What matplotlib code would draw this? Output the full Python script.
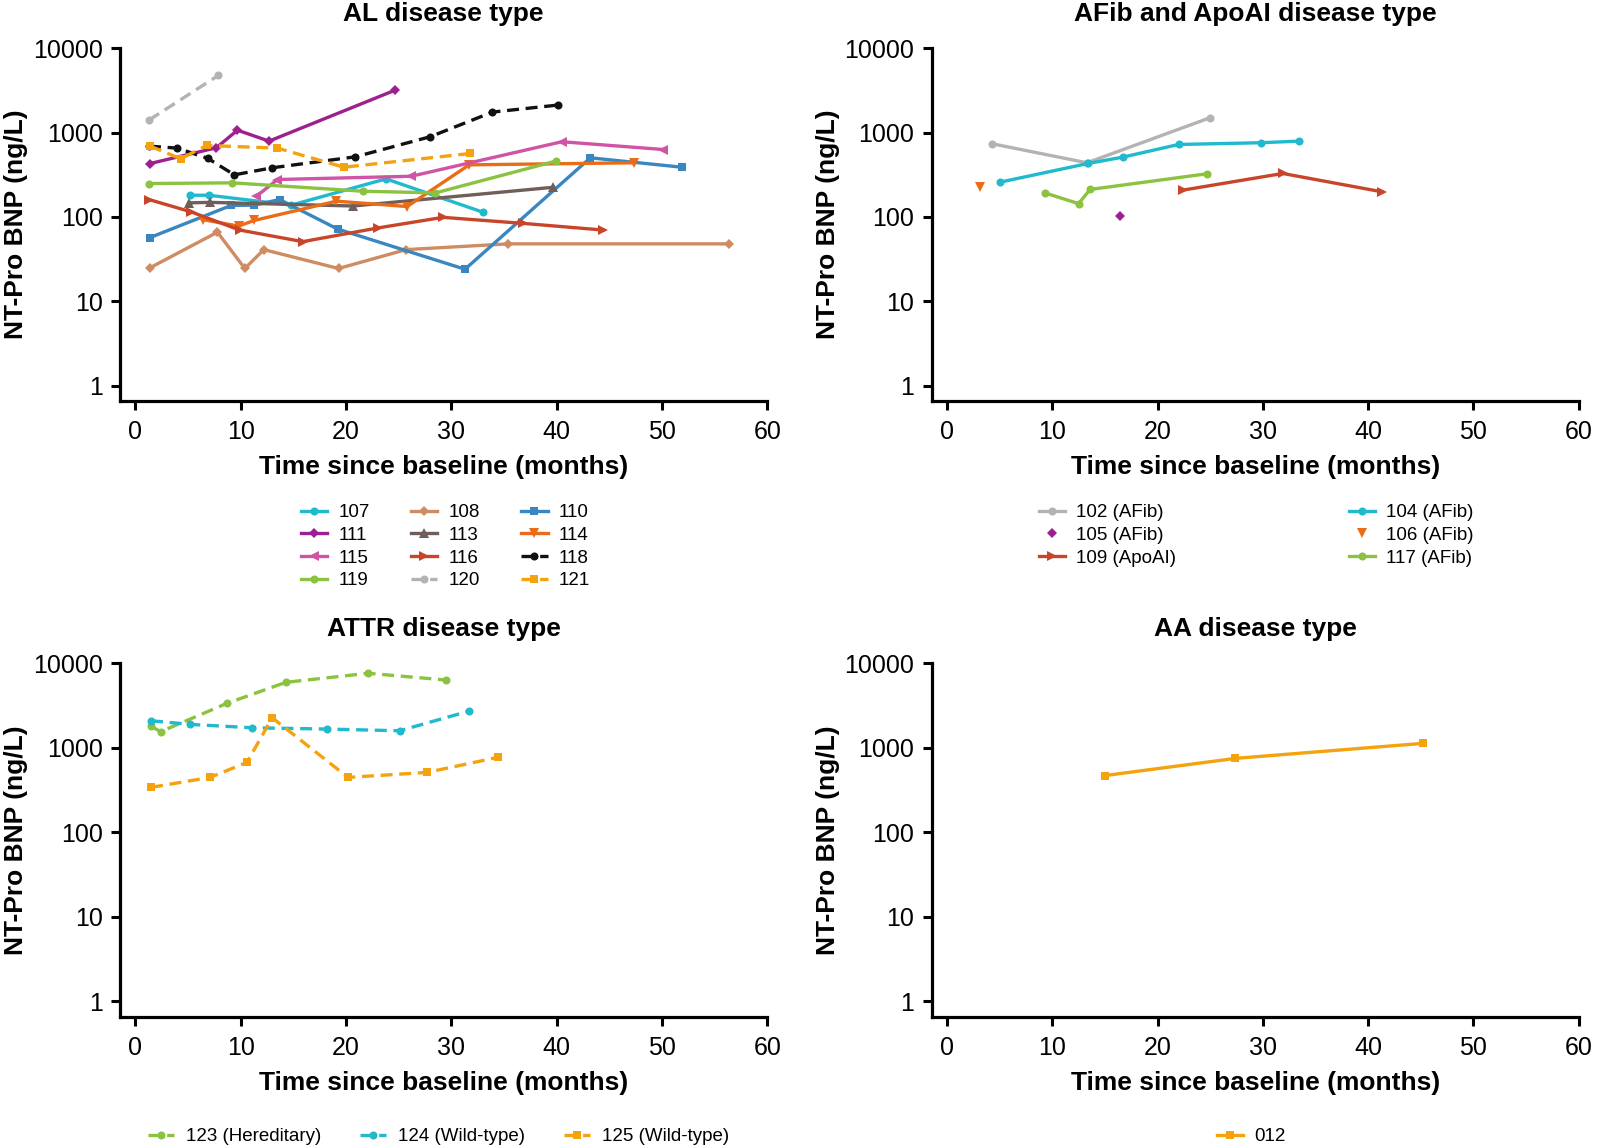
import matplotlib
matplotlib.use("Agg")
import matplotlib.pyplot as plt
from matplotlib.ticker import FixedLocator, FixedFormatter, NullLocator

plt.rcParams['font.family'] = ['Liberation Sans', 'DejaVu Sans']

# ---------------- Data ----------------
# AL disease type
t107 = [5.2, 7.0, 14.8, 23.8, 33.0]
v107 = [181, 181, 138, 283, 114]
t108 = [1.4, 7.8, 10.4, 12.2, 19.3, 25.7, 35.4, 56.4]
v108 = [25, 66, 24.5, 41, 24.5, 41, 48, 48]
t110 = [1.4, 9.1, 11.3, 13.7, 19.2, 31.3, 43.2, 51.9]
v110 = [57, 137, 138, 161, 72, 24, 503, 389]
t111 = [1.4, 7.7, 9.7, 12.7, 24.7]
v111 = [430, 662, 1070, 793, 3200]
t113 = [5.1, 7.1, 20.7, 39.7]
v113 = [147, 149, 135, 225]
t114 = [6.4, 9.8, 11.3, 19.1, 25.8, 31.7, 47.3]
v114 = [93, 78, 91, 154, 133, 415, 439]
t115 = [11.5, 13.5, 26.2, 40.5, 50.1]
v115 = [176, 278, 304, 780, 631]
t116 = [1.3, 5.3, 9.9, 15.9, 23.0, 29.2, 36.8, 44.4]
v116 = [161, 115, 70, 51, 74, 99, 84, 70]
t118 = [1.3, 4.0, 6.9, 9.4, 13.0, 20.9, 28.0, 33.9, 40.1]
v118 = [692, 655, 494, 316, 383, 517, 894, 1752, 2122]
t119 = [1.3, 9.2, 21.6, 28.5, 39.9]
v119 = [249, 254, 202, 193, 459]
t120 = [1.3, 7.9]
v120 = [1410, 4780]
t121 = [1.4, 4.3, 6.8, 13.5, 19.8, 31.8]
v121 = [692, 490, 705, 655, 389, 566]

# AFib and ApoAI disease type
t102 = [4.3, 13.3, 25.0]
v102 = [738, 439, 1503]
t104 = [5.0, 13.4, 16.7, 22.0, 29.8, 33.4]
v104 = [258, 431, 512, 724, 759, 793]
t105 = [16.4]
v105 = [104]
t106 = [3.1]
v106 = [228]
t109 = [22.4, 31.9, 41.3]
v109 = [208, 328, 199]
t117 = [9.3, 12.5, 13.6, 24.7]
v117 = [193, 144, 212, 325]

# ATTR disease type
t123 = [1.5, 2.4, 8.7, 14.3, 22.1, 29.5]
v123 = [1807, 1548, 3358, 5957, 7617, 6341]
t124 = [1.5, 5.2, 11.1, 18.2, 25.1, 31.7]
v124 = [2089, 1893, 1725, 1666, 1590, 2722]
t125 = [1.5, 7.1, 10.6, 13.0, 20.2, 27.7, 34.4]
v125 = [340, 446, 671, 2266, 446, 511, 770]

# AA disease type
t012 = [15.0, 27.4, 45.2]
v012 = [469, 749, 1128]

titles = ["AL disease type", "AFib and ApoAI disease type",
          "ATTR disease type", "AA disease type"]
x_ticks = [0, 10, 20, 30, 40, 50, 60]
y_ticks = [1, 10, 100, 1000, 10000]
y_tick_labels = ["1", "10", "100", "1000", "10000"]

# ---------------- Styles ----------------
C_CYAN = "#1fbacd"
C_TAN = "#cf8b62"
C_BLUE = "#3a86c1"
C_PURPLE = "#9e1f8f"
C_TAUPE = "#6f5e59"
C_ORANGE = "#ea6c16"
C_PINK = "#d053a6"
C_RED = "#c9452a"
C_BLACK = "#111111"
C_GREEN = "#8bc240"
C_GRAY = "#b3b3b3"
C_AMBER = "#f4a20e"

LW = 2.4
MS = 5.8

al_series = [
    ("107", t107, v107, C_CYAN, 'o', '-'),
    ("108", t108, v108, C_TAN, 'D', '-'),
    ("110", t110, v110, C_BLUE, 's', '-'),
    ("111", t111, v111, C_PURPLE, 'D', '-'),
    ("113", t113, v113, C_TAUPE, '^', '-'),
    ("114", t114, v114, C_ORANGE, 'v', '-'),
    ("115", t115, v115, C_PINK, '<', '-'),
    ("116", t116, v116, C_RED, '>', '-'),
    ("118", t118, v118, C_BLACK, 'o', '--'),
    ("119", t119, v119, C_GREEN, 'o', '-'),
    ("120", t120, v120, C_GRAY, 'o', '--'),
    ("121", t121, v121, C_AMBER, 's', '--'),
]
afib_series = [
    ("102 (AFib)", t102, v102, C_GRAY, 'o', '-'),
    ("104 (AFib)", t104, v104, C_CYAN, 'o', '-'),
    ("105 (AFib)", t105, v105, C_PURPLE, 'D', 'none'),
    ("106 (AFib)", t106, v106, C_ORANGE, 'v', 'none'),
    ("109 (ApoAI)", t109, v109, C_RED, '>', '-'),
    ("117 (AFib)", t117, v117, C_GREEN, 'o', '-'),
]
attr_series = [
    ("123 (Hereditary)", t123, v123, C_GREEN, 'o', '--'),
    ("124 (Wild-type)", t124, v124, C_CYAN, 'o', '--'),
    ("125 (Wild-type)", t125, v125, C_AMBER, 's', '--'),
]
aa_series = [
    ("012", t012, v012, C_AMBER, 's', '-'),
]

W, H = 1600, 1148
fig = plt.figure(figsize=(W / 100, H / 100), dpi=100)


def px_axes(left, top, right, bottom):
    return fig.add_axes([left / W, 1 - bottom / H, (right - left) / W, (bottom - top) / H])


ax_al = px_axes(120, 48.3, 767.3, 401)
ax_af = px_axes(931.7, 48.3, 1578.6, 401)
ax_at = px_axes(120, 663.3, 767.3, 1016.6)
ax_aa = px_axes(931.7, 663.3, 1578.6, 1016.6)


def msize(m):
    if m in ('D',):
        return MS - 0.8
    if m in ('^', 'v', '<', '>'):
        return MS + 1.0
    return MS


def draw(ax, series):
    handles = {}
    for name, t, v, c, m, ls in series:
        kw = dict(color=c, marker=m, markersize=msize(m), linewidth=LW,
                  markeredgewidth=0, label=name)
        if ls == '--':
            kw['dashes'] = (3.6, 2.0)
            kw['linestyle'] = '--'
        elif ls == 'none':
            kw['linestyle'] = 'none'
        else:
            kw['linestyle'] = '-'
        ln, = ax.plot(t, v, **kw)
        handles[name] = ln
    return handles


def style(ax, title):
    ax.set_yscale('log')
    ax.set_xlim(-1.45, 60)
    ax.set_ylim(10 ** -0.182, 10000)
    ax.yaxis.set_major_locator(FixedLocator(y_ticks))
    ax.yaxis.set_major_formatter(FixedFormatter(y_tick_labels))
    ax.yaxis.set_minor_locator(NullLocator())
    ax.set_xticks(x_ticks)
    ax.set_xticklabels([str(x) for x in x_ticks])
    for s in ('top', 'right'):
        ax.spines[s].set_visible(False)
    for s in ('left', 'bottom'):
        ax.spines[s].set_linewidth(2.3)
        ax.spines[s].set_color('black')
    ax.tick_params(axis='both', which='major', direction='out', length=6.5,
                   width=2.2, labelsize=18, colors='black')
    ax.tick_params(axis='x', pad=7.5)
    ax.tick_params(axis='y', pad=6)
    ax.set_title(title, fontsize=19, fontweight='bold', pad=19.5)
    ax.set_xlabel("Time since baseline (months)", fontsize=19, fontweight='bold')
    ax.set_ylabel("NT-Pro BNP (ng/L)", fontsize=19, fontweight='bold')
    ax.xaxis.set_label_coords(0.5, -0.154)
    ax.yaxis.set_label_coords(-0.142, 0.5)
    ax.patch.set_alpha(0)


h_al = draw(ax_al, al_series)
h_af = draw(ax_af, afib_series)
h_at = draw(ax_at, attr_series)
h_aa = draw(ax_aa, aa_series)
for ax, ttl in zip([ax_al, ax_af, ax_at, ax_aa], titles):
    style(ax, ttl)

LEG_FS = 13.5
common = dict(loc='upper left', frameon=False, fontsize=LEG_FS, borderpad=0,
              borderaxespad=0, handlelength=1.4, handletextpad=0.6,
              labelspacing=0.3, numpoints=1)

# AL legend: rows of 3, row-major order as in the reference
al_names = [s[0] for s in al_series]
nrow, ncol = 4, 3
order = [al_names[r * ncol + c] for c in range(ncol) for r in range(nrow)]
fig.legend([h_al[n] for n in order], order, ncol=3, columnspacing=2.2,
           bbox_to_anchor=(301 / W, 1 - 504 / H), **common)

af_names = [s[0] for s in afib_series]
af_order = [af_names[i] for i in (0, 2, 4, 1, 3, 5)]
fig.legend([h_af[n] for n in af_order], af_order, ncol=2, columnspacing=9.2,
           bbox_to_anchor=(1039 / W, 1 - 504 / H), **common)

at_names = [s[0] for s in attr_series]
fig.legend([h_at[n] for n in at_names], at_names, ncol=3, columnspacing=2.1,
           bbox_to_anchor=(148 / W, 1 - 1128 / H), **common)

aa_names = [s[0] for s in aa_series]
fig.legend([h_aa[n] for n in aa_names], aa_names, ncol=1,
           bbox_to_anchor=(1217 / W, 1 - 1128 / H), **common)

fig.savefig("out.png", dpi=100, facecolor='white')
